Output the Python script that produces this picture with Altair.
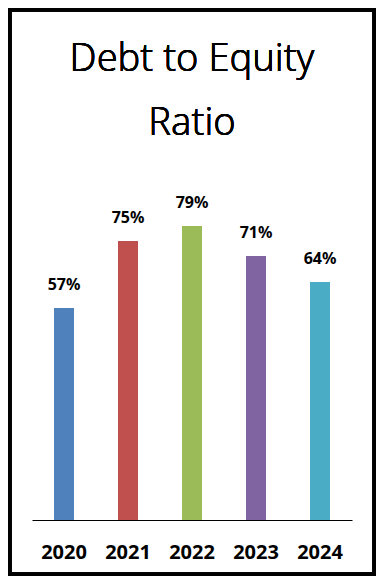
import altair as alt
import pandas as pd

years = ["2020", "2021", "2022", "2023", "2024"]
ratios = [0.57, 0.75, 0.79, 0.71, 0.64]
labels = ["57%", "75%", "79%", "71%", "64%"]
colors = ["#4F81BD", "#C0504D", "#9BBB59", "#8064A2", "#4BACC6"]
title_lines = ["Debt to Equity", "Ratio"]

df = pd.DataFrame({"year": years, "ratio": ratios, "label": labels})

x = alt.X("year:N", sort=years,
          scale=alt.Scale(paddingInner=0.6875, paddingOuter=0.34375),
          axis=alt.Axis(title=None, labelAngle=0, ticks=False, domainColor="black",
                        domainWidth=1, labelFont="Noto Sans", labelFontSize=20,
                        labelFontWeight="bold", labelColor="black",
                        labelPadding=38, labelBaseline="alphabetic", grid=False))
y = alt.Y("ratio:Q", scale=alt.Scale(domain=[0, 1]), axis=None)

bars = alt.Chart(df).mark_bar().encode(
    x=x, y=y,
    color=alt.Color("year:N", scale=alt.Scale(domain=years, range=colors), legend=None),
)

text = alt.Chart(df).mark_text(font="Noto Sans", fontSize=16, fontWeight="bold",
                               color="black", baseline="alphabetic", dy=-18).encode(
    x=alt.X("year:N", sort=years), y=y, text="label:N")

frame = alt.Chart(df).mark_rect(fill=None, stroke="black", strokeWidth=3.5).encode(
    x=alt.value(-22.25), x2=alt.value(342.25), y=alt.value(-138.25), y2=alt.value(426.25))

title = alt.Chart(df).mark_text(font="Noto Sans", fontSize=38, fontWeight=300,
                                color="black", baseline="alphabetic", align="center",
                                lineHeight=64, text=title_lines).encode(
    x=alt.value(160), y=alt.value(-77))

chart = alt.layer(frame, bars, text, title).properties(
    width=320, height=372,
    padding={"left": 24, "top": 140, "right": 24, "bottom": 56},
    autosize=alt.AutoSizeParams(type="none"),
).configure_view(stroke=None)

chart.save("out.html", embed_options={"renderer": "svg", "actions": False})
